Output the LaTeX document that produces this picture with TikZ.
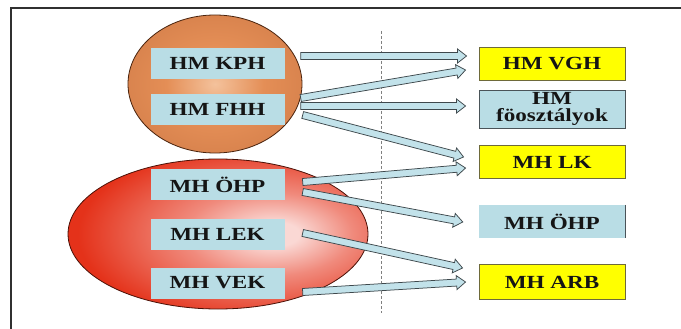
\documentclass[tikz,border=0pt]{standalone}
\usepackage{fontspec}
\setmainfont[FakeStretch=1.25]{Liberation Serif}
\usetikzlibrary{calc}
\definecolor{boxblue}{HTML}{B9DDE5}
\definecolor{boxyellow}{HTML}{FFFF00}
\definecolor{yedge}{HTML}{6E6A3A}
\definecolor{bedge}{HTML}{4A5358}
\definecolor{arrowblue}{HTML}{C2E2EA}
\definecolor{arrowedge}{HTML}{3E484C}
\definecolor{txt}{HTML}{151515}
\definecolor{framecol}{HTML}{303030}
\definecolor{brIn}{HTML}{F4C29C}
\definecolor{brMid}{HTML}{E48E56}
\definecolor{brOut}{HTML}{9C4A22}
\definecolor{brEdge}{HTML}{4A240E}
\definecolor{rdIn}{HTML}{FAD8D4}
\definecolor{rdMid}{HTML}{F08A7C}
\definecolor{rdOut}{HTML}{E4321A}
\definecolor{rdEdge}{HTML}{4A1006}
\pgfdeclareradialshading{brownball}{\pgfpoint{0bp}{0bp}}{color(0bp)=(brIn); color(14bp)=(brMid); color(36bp)=(brMid!70!brOut); color(50bp)=(brOut); color(72bp)=(brOut)}
\pgfdeclareradialshading{redball}{\pgfpoint{10bp}{0bp}}{color(0bp)=(rdIn); color(4bp)=(rdIn); color(14bp)=(rdMid); color(30bp)=(rdOut); color(50bp)=(rdOut); color(90bp)=(rdOut)}
\newcommand{\fatarrow}[2]{%
  \draw[fat] let \p1=($(#2)-(#1)$), \n1={veclen(\x1,\y1)}, \n2={atan2(\y1,\x1)} in
  [shift={(#1)}, rotate=\n2]
  (0pt,3.5pt) -- ({\n1-9pt},3.5pt) -- ({\n1-9pt},7pt) -- ({\n1*1pt},0pt)
  -- ({\n1-9pt},-7pt) -- ({\n1-9pt},-3.5pt) -- (0pt,-3.5pt) -- cycle;}
\begin{document}
\begin{tikzpicture}[x=1pt,y=-1pt,
  txtfont/.style={font=\bfseries\fontsize{18.5}{17.5}\selectfont, text=txt},
  lbox/.style={txtfont, fill=boxblue, minimum width=134pt, minimum height=31pt, inner sep=0pt},
  rbox/.style={txtfont, minimum width=146pt, minimum height=33pt, inner sep=0pt, align=center},
  ybox/.style={rbox, fill=boxyellow, draw=yedge, line width=0.9pt},
  bbox/.style={rbox, fill=boxblue},
  fat/.style={fill=arrowblue, draw=arrowedge, line width=0.75pt, line join=miter}]
\useasboundingbox (0,0) rectangle (681,329);
\fill[white] (0,0) rectangle (681,329);
\draw[framecol, line width=1.3pt] (11,329) -- (11,8) -- (681,8);

% background shapes
\shadedraw[shading=brownball, draw=brEdge, line width=0.8pt] (215,84) ellipse [x radius=87pt, y radius=69pt];
\shadedraw[shading=redball, draw=rdEdge, line width=0.8pt] (218,234) ellipse [x radius=150pt, y radius=75pt];

% divider
\draw[gray, densely dashed, line width=0.6pt] (381,31) -- (381,313);

% left boxes
\node[lbox] (kph) at (217.5,63.5) {HM KPH};
\node[lbox] (fhh) at (217.5,109.5) {HM FHH};
\node[lbox] (lohp) at (217.5,184.5) {MH ÖHP};
\node[lbox] (lek) at (217.5,234) {MH LEK};
\node[lbox] (vek) at (217.5,283) {MH VEK};

% right boxes
\node[ybox] (vgh) at (552,63.5) {HM VGH};
\node[bbox, draw=bedge, line width=0.9pt, minimum height=38pt] (fo) at (552,109) {HM\\föosztályok};
\node[ybox] (lk) at (552,162) {MH LK};
\node[bbox, minimum height=33pt] (rohp) at (552,221.5) {MH ÖHP};
\draw[bedge, line width=0.9pt] (rohp.north east) -- (rohp.south east);
\node[ybox, minimum height=35pt] (arb) at (552,282) {MH ARB};

% arrow end points
\coordinate (s1) at ($(kph.east)+(16,-7.5)$);
\coordinate (e1) at ($(vgh.west)+(-12,-7.5)$);
\coordinate (s2) at ($(fhh.east)+(16,-11.5)$);
\coordinate (e2) at ($(vgh.west)+(-13,6.5)$);
\coordinate (s3) at ($(fhh.east)+(16,-3.5)$);
\coordinate (e3) at ($(fo.west)+(-13,-3)$);
\coordinate (s4) at ($(fhh.east)+(18,5.5)$);
\coordinate (e4) at ($(lk.west)+(-15,-5)$);
\coordinate (s5) at ($(lohp.east)+(18,-2.5)$);
\coordinate (e5) at ($(lk.west)+(-13,6)$);
\coordinate (s6) at ($(lohp.east)+(18,7.5)$);
\coordinate (e6) at ($(rohp.west)+(-16,0.5)$);
\coordinate (s7) at ($(lek.east)+(18,-1)$);
\coordinate (e7) at ($(arb.west)+(-16,-14)$);
\coordinate (s8) at ($(vek.east)+(18,9)$);
\coordinate (e8) at ($(arb.west)+(-13,0)$);

\fatarrow{s1}{e1}
\fatarrow{s2}{e2}
\fatarrow{s3}{e3}
\fatarrow{s4}{e4}
\fatarrow{s5}{e5}
\fatarrow{s6}{e6}
\fatarrow{s7}{e7}
\fatarrow{s8}{e8}
\end{tikzpicture}
\end{document}
